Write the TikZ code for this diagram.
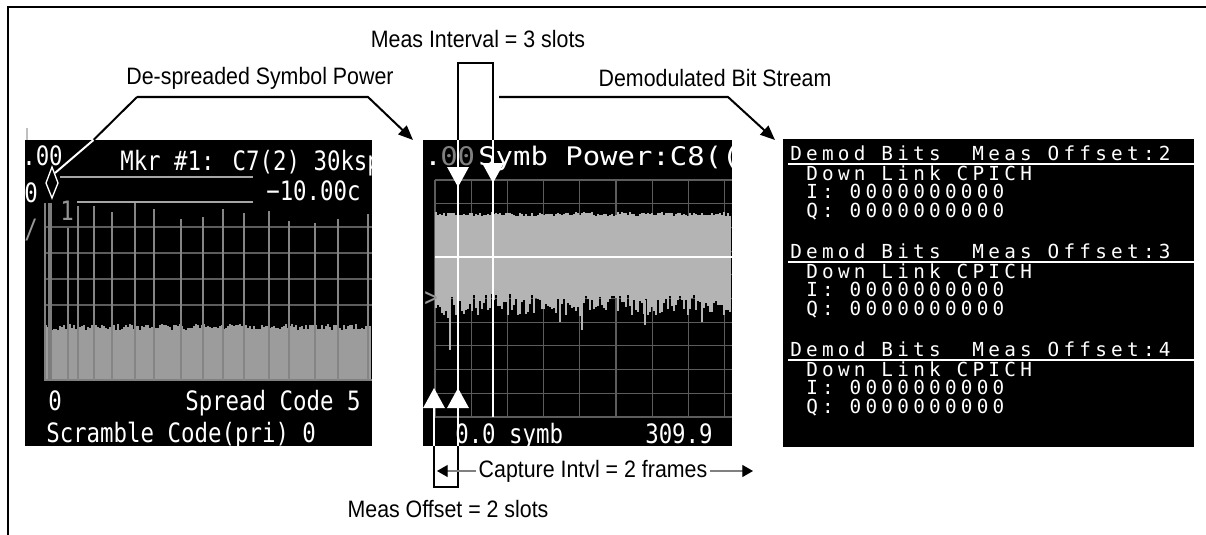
\documentclass[tikz,border=0pt]{standalone}
\usepackage{fontspec}
\setmainfont[FakeStretch=0.9]{Liberation Sans}
\newfontfamily\scrfont[FakeStretch=0.84]{DejaVu Sans Mono}
\newfontfamily\ttlfont[FakeStretch=1.13]{DejaVu Sans Mono}
\newfontfamily\bitfont[LetterSpace=22]{DejaVu Sans Mono}
\usetikzlibrary{arrows.meta,calc}

\definecolor{bandgray}{HTML}{B4B4B4}
\definecolor{fillgray}{HTML}{9C9C9C}
\definecolor{gridgray}{HTML}{5C5C5C}

\tikzset{
  lbl/.style={inner sep=0pt, font=\fontsize{17.8}{19}\selectfont},
  scr/.style={inner sep=0pt, anchor=base west, text=white,
              font=\scrfont\fontsize{20}{22}\selectfont},
  ttl/.style={inner sep=0pt, anchor=base west, text=white,
              font=\ttlfont\fontsize{19.2}{21}\selectfont},
  bits/.style={inner sep=0pt, anchor=base west, text=white,
               font=\bitfont\fontsize{14.5}{16}\selectfont},
  leader/.style={line width=1.5pt, -{Triangle[length=11pt,width=9pt]}},
  bracket/.style={line width=1.5pt},
  whitearr/.style={white, line width=1.5pt, -{Triangle[length=15pt,width=16pt]}},
  gridline/.style={gridgray, line width=0.8pt},
  captarr/.style={gray, line width=0.8pt, -{Triangle[length=8pt,width=9pt,color=black]}},
}

\begin{document}
\begin{tikzpicture}[x=0.75pt, y=-0.75pt]
\useasboundingbox (0,0) rectangle (1206,535);
\pgfmathsetseed{42}

% frame
\draw[line width=1.5pt] (8,535) -- (8,7) -- (1206,7);

% ---- left screen: de-spreaded symbol power
\draw[gray!50, line width=0.8pt] (27,128) -- (27,140);
\fill[black] (25,140) rectangle (372,446);
\begin{scope}
  \clip (25,140) rectangle (372,446);
  \foreach \y in {227,253,279,305}
    \draw[gridline] (45,\y) -- (372,\y);
  \foreach \x in {46,48,...,370}
    \draw[fillgray, line width=1.6pt] (\x,380) -- (\x,{327+3*rand});
  \draw[gray, line width=0.8pt] (45,203) -- (45,380) -- (372,380);
  \draw[fillgray!80!black, line width=3.5pt] (50,380) -- (50,203);
  \foreach \x/\t in {68/228,78/206,94/206,112/212,135/203,154/209,181/219,
                     203/217,223/209,244/213,269/211,289/221,315/223,338/219,368/214}
    \draw[fillgray!85!black, line width=2pt] (\x,380) -- (\x,\t);
  \draw[gray!70, line width=1pt] (60,177) -- (253,177);
  \draw[gray!70, line width=1pt] (77,202) -- (253,202);
  \draw[white, line width=1pt] (52,167) -- (58,183) -- (52,198) -- (46,183) -- cycle;
  \node[scr] (lTop) at (22,165) {.00};
  \node[scr] (lMkr) at (120,170) {Mkr \#1: C7(2) 30ksp};
  \node[scr] (lRef) at (266,200) {−10.00c};
  \node[scr] (lZero) at (24,202) {0};
  \node[scr, text=gray!80] (lSlash) at (24,238) {/};
  \node[scr, text=gray!85] (lOne) at (60,220) {1};
  \node[scr] (lStart) at (48,410) {0};
  \node[scr] (lAxis) at (185,410) {Spread Code 5};
  \node[scr] (lScr) at (46,442) {Scramble Code(pri) 0};
\end{scope}

% ---- middle screen: symbol power vs time
\fill[black] (423,140) rectangle (732,446);
\begin{scope}
  \clip (423,140) rectangle (732,446);
  \foreach \i in {0,...,8}
    \draw[gridline] ({435+36.2*\i},180) -- ({435+36.2*\i},417);
  \foreach \j in {0,...,10}
    \draw[gridline] (435,{180+23.7*\j}) -- (732,{180+23.7*\j});
  \foreach \x in {436,438,...,731}
    \draw[bandgray, line width=1.6pt] (\x,{214+2*rand}) -- (\x,{305+11*rand});
  \foreach \x/\b in {450/350,582/330,448/318,560/322,645/325,702/322}
    \draw[bandgray, line width=1pt] (\x,300) -- (\x,\b);
  \draw[white, line width=1pt] (435,257) -- (732,257);
  \node[ttl] (mDot) at (424,165) {.};
  \node[ttl, text=gray] (mTop) at (440,165) {00};
  \node[ttl] (mTtl) at (478,165) {Symb Power:C8((};
  \node[scr, text=gray!80] (mRef) at (424,306) {>};
  \node[scr] (mStart) at (455,443) {0.0 symb};
  \node[scr] (mStop) at (645,443) {309.9};
\end{scope}

% ---- right screen: demodulated bits
\fill[black] (783,139) rectangle (1194,447);
\foreach \k/\o in {0/2,1/3,2/4}{
  \node[bits] (hdr\o) at (790,{160+98*\k}) {Demod Bits\ \ Meas Offset:\o};
  \draw[white, line width=1.2pt] (788,{164+98*\k}) -- (1194,{164+98*\k});
  \node[bits] (lnk\o) at (806,{180+98*\k}) {Down Link CPICH};
  \node[bits] (ibit\o) at (806,{198+98*\k}) {I: 0000000000};
  \node[bits] (qbit\o) at (806,{217+98*\k}) {Q: 0000000000};
}

% ---- labels
\node[lbl] (despr) at (260,78) {De-spreaded Symbol Power};
\node[lbl] (demod) at (715,78) {Demodulated Bit Stream};
\node[lbl] (intvl) at (478,39) {Meas Interval = 3 slots};
\node[lbl] (offs) at (448,509) {Meas Offset = 2 slots};
\node[lbl, fill=white, inner xsep=2pt, inner ysep=1pt] (capt) at (593,471) {Capture Intvl = 2 frames};

% ---- leaders
\coordinate (dsA) at (137,97);
\coordinate (dsB) at (368,97);
\coordinate (dsTip) at (413,140);
\coordinate (dsCut) at (93.5,140);
\coordinate (dsMk) at (55,173);
\draw[leader] (dsA) -- (dsB) -- (dsTip);
\draw[bracket] (dsA) -- (dsCut);
\draw[white, line width=1.5pt] (dsCut) -- (dsMk);

\coordinate (dbA) at (499,97);
\coordinate (dbB) at (728,97);
\coordinate (dbTip) at (775,140);
\draw[leader] (dbA) -- (dbB) -- (dbTip);

% meas interval bracket
\coordinate (miL) at (458,140);
\coordinate (miR) at (493,140);
\draw[bracket] (miL) -- (458,63) -- (493,63) -- (miR);
\draw[white, line width=1.5pt] (458,180) -- (458,446);
\draw[white, line width=1.5pt] (493,180) -- (493,417);
\draw[whitearr] (miL) -- (458,187);
\draw[whitearr] (miR) -- (493,183);

% meas offset bracket
\coordinate (moL) at (434,446);
\coordinate (moR) at (458,446);
\draw[bracket] (moL) -- (434,487) -- (458,487) -- (moR);
\draw[whitearr] (moL) -- (434,388);
\draw[whitearr] (moR) -- (458,388);

% capture interval
\coordinate (cpL) at (437,471);
\coordinate (cpR) at (753,471);
\draw[captarr] (capt.west) -- (cpL);
\draw[captarr] (capt.east) -- (cpR);
\end{tikzpicture}
\end{document}
